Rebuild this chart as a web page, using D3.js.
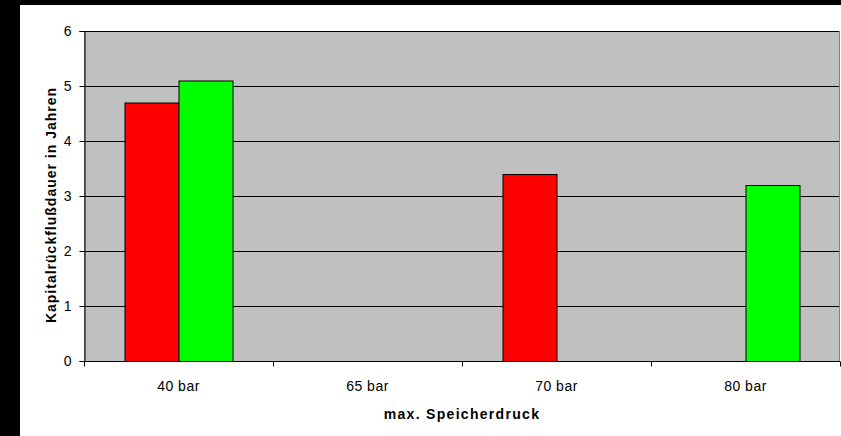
<!DOCTYPE html>
<html>
<head>
<meta charset="utf-8">
<script src="https://cdn.jsdelivr.net/npm/d3@7/dist/d3.min.js"></script>
<style>
  html, body { margin: 0; padding: 0; background: #fff; }
  svg { display: block; }
  text { font-family: "Liberation Sans", Arial, sans-serif; fill: #000; }
</style>
</head>
<body>
<script>
// Payback period by maximum storage pressure, two system variants
const categories = ["40 bar", "65 bar", "70 bar", "80 bar"];
const seriesNames = ["Variante A", "Variante B"];
const seriesA = [4.7, null, 3.4, null];
const seriesB = [5.1, null, null, 3.2];
const seriesColors = ["#ff0000", "#00ff00"];
const yTicks = [0, 1, 2, 3, 4, 5, 6];

const W = 841, H = 436;
const plot = { left: 84, top: 31, right: 840, bottom: 361 };

const svg = d3.select("body").append("svg")
  .attr("width", W).attr("height", H);

// page frame
svg.append("rect").attr("x", 0).attr("y", 0).attr("width", W).attr("height", H).attr("fill", "#fff");
svg.append("rect").attr("x", 0).attr("y", 0).attr("width", 20).attr("height", H).attr("fill", "#000");
svg.append("rect").attr("x", 0).attr("y", 0).attr("width", W).attr("height", 5).attr("fill", "#000");

const x = d3.scaleBand().domain(categories).range([plot.left, plot.right]).paddingInner(0).paddingOuter(0);
const xs = d3.scaleBand().domain(seriesNames).range([0, x.bandwidth()]).paddingInner(0).paddingOuter(0.75);
const y = d3.scaleLinear().domain([0, 6]).range([plot.bottom, plot.top]);

// plot background
svg.append("rect")
  .attr("x", plot.left).attr("y", plot.top)
  .attr("width", plot.right - plot.left - 0.5).attr("height", plot.bottom - plot.top)
  .attr("fill", "#c0c0c0").attr("stroke", "#808080").attr("stroke-width", 1)
  .attr("shape-rendering", "crispEdges");

// horizontal gridlines
svg.append("g").selectAll("line").data(yTicks.filter(d => d > 0)).join("line")
  .attr("x1", plot.left).attr("x2", plot.right - 1)
  .attr("y1", d => Math.round(y(d)) + 0.5).attr("y2", d => Math.round(y(d)) + 0.5)
  .attr("stroke", "#000").attr("stroke-width", 1);

// bars
const rows = categories.map((c, i) => ({ cat: c, values: [seriesA[i], seriesB[i]] }));
const gBars = svg.append("g");
rows.forEach(r => {
  r.values.forEach((v, j) => {
    if (v == null) return;
    gBars.append("rect")
      .attr("x", x(r.cat) + xs(seriesNames[j]) + 0.5)
      .attr("y", y(v) + 0.5)
      .attr("width", xs.bandwidth())
      .attr("height", y(0) - y(v))
      .attr("fill", seriesColors[j])
      .attr("stroke", "#000").attr("stroke-width", 1);
  });
});

// y axis
const yAxis = d3.axisLeft(y).tickValues(yTicks).tickSize(5).tickPadding(8).tickFormat(d3.format("d"));
const gy = svg.append("g").attr("transform", `translate(${plot.left + 0.5},0)`).call(yAxis);
gy.select(".domain").attr("stroke", "#000");
gy.selectAll(".tick line").attr("stroke", "#000");
gy.selectAll("text").attr("font-size", 14).attr("font-family", "Liberation Sans, Arial, sans-serif");

// x axis: ticks at category boundaries
const gx = svg.append("g").attr("transform", `translate(0,${plot.bottom + 0.5})`);
gx.append("line").attr("x1", plot.left).attr("x2", plot.right).attr("stroke", "#000");
const bounds = categories.map(c => x(c)).concat([x(categories[categories.length - 1]) + x.bandwidth()]);
gx.selectAll("line.tk").data(bounds).join("line").attr("class", "tk")
  .attr("x1", d => Math.round(d) + 0.5).attr("x2", d => Math.round(d) + 0.5)
  .attr("y1", 0).attr("y2", 5).attr("stroke", "#000");
gx.selectAll("text").data(categories).join("text")
  .attr("x", d => x(d) + x.bandwidth() / 2)
  .attr("y", 29)
  .attr("text-anchor", "middle")
  .attr("font-size", 14)
  .attr("letter-spacing", "0.5px")
  .text(d => d);

// axis titles
svg.append("text")
  .attr("transform", "translate(56,205) rotate(-90)")
  .attr("text-anchor", "middle")
  .attr("font-size", 14).attr("font-weight", "bold")
  .attr("letter-spacing", "1px")
  .text("Kapitalrückflußdauer in Jahren");

svg.append("text")
  .attr("x", (plot.left + plot.right) / 2)
  .attr("y", 419)
  .attr("text-anchor", "middle")
  .attr("font-size", 14).attr("font-weight", "bold")
  .attr("letter-spacing", "1.3px")
  .text("max. Speicherdruck");
</script>
</body>
</html>
